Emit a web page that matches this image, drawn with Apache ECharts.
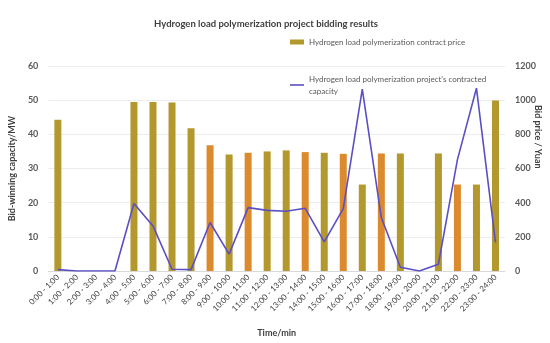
<!DOCTYPE html>
<html><head><meta charset="utf-8">
<script src="https://cdn.jsdelivr.net/npm/echarts@6/dist/echarts.min.js"></script>
<style>html,body{margin:0;padding:0;background:#fff}#c{width:550px;height:343px}</style>
</head><body><div id="c"></div>
<script>
const categories = ["0:00 - 1:00","1:00 - 2:00","2:00 - 3:00","3:00 - 4:00","4:00 - 5:00","5:00 - 6:00","6:00 - 7:00","7:00 - 8:00","8:00 - 9:00","9:00 - 10:00","10:00 - 11:00","11:00 - 12:00","12:00 - 13:00","13:00 - 14:00","14:00 - 15:00","15:00 - 16:00","16:00 - 17:00","17:00 - 18:00","18:00 - 19:00","19:00 - 20:00","20:00 - 21:00","21:00 - 22:00","22:00 - 23:00","23:00 - 24:00"];
const priceValues = [44.3,0,0,0,49.5,49.5,49.3,41.8,36.8,34.1,34.6,35.0,35.3,34.8,34.6,34.3,25.3,34.4,34.4,0,34.4,25.3,25.3,49.9];
const capacityValues = [8,0,0,0,395,264,10,8,284,99,371,355,350,367,171,365,1064,313,22,0,40,652,1070,167];
const leftTicks = {min:0,max:60,interval:10};
const rightTicks = {min:0,max:1200,interval:200};
const barName = "Hydrogen load polymerization contract price";
const lineName = "Hydrogen load polymerization project's contracted capacity";

const orangeIdx = new Set([8,10,13,15,17,21]);
const olive = '#b3982e', orange = '#dc8a2e', lineColor = '#5a4fc4';
const font = "Lato, 'Open Sans', sans-serif";
const chart = echarts.init(document.getElementById('c'));
chart.setOption({
  animation:false,
  textStyle:{fontFamily:font},
  title:{text:"Hydrogen load polymerization project bidding results",left:261,top:14,textAlign:'center',
    textStyle:{fontSize:9.5,fontWeight:'bold',color:'#404040',fontFamily:font}},
  legend:[
    {data:[{name:barName,icon:'rect',itemStyle:{color:olive}}],left:285,top:33,itemWidth:14,itemHeight:5,
     textStyle:{fontSize:8,color:'#595959',fontFamily:font}},
    {data:[{name:lineName,icon:'path://M0,0 L14,0 L14,1.6 L0,1.6 Z',itemStyle:{color:lineColor}}],left:285,top:68,itemWidth:14,itemHeight:2,
     textStyle:{fontSize:8,color:'#595959',fontFamily:font,width:190,overflow:'break',lineHeight:12}}
  ],
  grid:{left:39,right:45,top:66,bottom:71},
  xAxis:{type:'category',data:categories,
    axisLine:{lineStyle:{color:'#d9d9d9'}},axisTick:{show:false},
    axisLabel:{rotate:45,fontSize:8,color:'#404040',interval:0,margin:5,fontFamily:font},
    name:'Time/min',nameLocation:'middle',nameGap:58,
    nameTextStyle:{fontSize:9,fontWeight:'bold',color:'#404040',fontFamily:font}},
  yAxis:[
    {type:'value',min:leftTicks.min,max:leftTicks.max,interval:leftTicks.interval,
     axisLine:{show:false},axisTick:{show:false},
     splitLine:{lineStyle:{color:'#ececec'}},
     axisLabel:{fontSize:9,fontWeight:'bold',color:'#595959',margin:10,fontFamily:font},
     name:'Bid-winning capacity/MW',nameLocation:'middle',nameGap:25,
     nameTextStyle:{fontSize:9,fontWeight:'bold',color:'#404040',fontFamily:font}},
    {type:'value',min:rightTicks.min,max:rightTicks.max,interval:rightTicks.interval,
     axisLine:{show:false},axisTick:{show:false},splitLine:{show:false},
     axisLabel:{fontSize:9,fontWeight:'bold',color:'#595959',margin:10,fontFamily:font,formatter:v=>String(v)}}
  ],
  graphic:[{type:'text',left:533,top:105,rotation:-Math.PI/2,
    style:{text:'Bid price / Yuan',fontSize:9,fontWeight:'bold',fill:'#404040',fontFamily:font}}],
  series:[
    {name:barName,type:'bar',yAxisIndex:0,data:priceValues,barWidth:7,
     itemStyle:{color:p=>orangeIdx.has(p.dataIndex)?orange:olive}},
    {name:lineName,type:'line',yAxisIndex:1,data:capacityValues,symbol:'none',
     lineStyle:{color:lineColor,width:1.6},itemStyle:{color:lineColor}}
  ]
});
</script></body></html>
